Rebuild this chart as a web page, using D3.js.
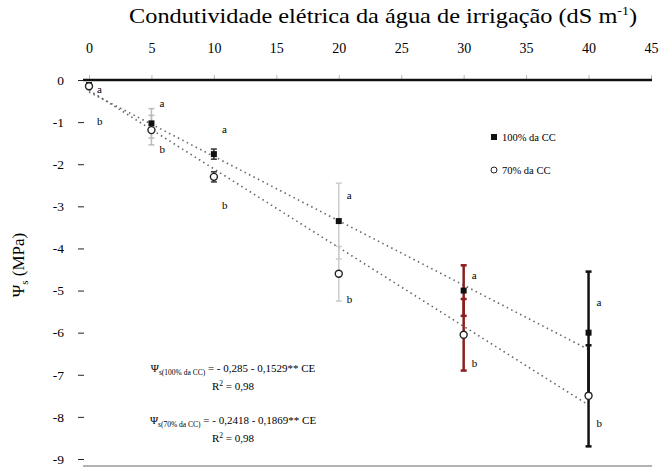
<!DOCTYPE html>
<html><head><meta charset="utf-8">
<script src="https://cdn.jsdelivr.net/npm/d3@7"></script>
<style>body{margin:0;background:#fff}svg{font-family:"Liberation Serif","Times New Roman",serif}</style>
</head><body><svg id="c" width="672" height="470"></svg>
<script>
// ---- data ----
const ce = [0, 5, 10, 20, 30, 40];
const xTicks = [0, 5, 10, 15, 20, 25, 30, 35, 40, 45];
const yTicks = [0, -1, -2, -3, -4, -5, -6, -7, -8, -9];
const psiA = [-0.12, -1.03, -1.76, -3.35, -5.0, -6.0];   // square series
const errA = [0.05, 0.35, 0.12, 0.9, 0.6, 1.45];
const psiB = [-0.15, -1.19, -2.3, -4.6, -6.05, -7.5];    // circle series
const errB = [0.05, 0.35, 0.12, 0.65, 0.85, 1.2];
const letterA = ["a", "a", "a", "a", "a", "a"];
const letterAy = [-0.22, -0.55, -1.17, -2.72, -4.64, -5.27];
const letterB = ["b", "b", "b", "b", "b", "b"];
const letterBy = [-0.98, -1.64, -2.97, -5.2, -6.72, -8.15];
const regA = {a: -0.285, b: -0.1529};
const regB = {a: -0.2418, b: -0.1869};
const seriesNames = ["100% da CC", "70% da CC"];

// ---- styles ----
const barColors = ["#333", "#bbb", "#333", "#ccc", "#8b1f1f", "#111"];

const svg = d3.select("#c");
const x = d3.scaleLinear().domain([0, 45]).range([89, 651]);
const y = d3.scaleLinear().domain([0, -9]).range([80, 459]);

// title
svg.append("text").attr("x", 383).attr("y", 23).attr("text-anchor", "middle")
  .attr("font-size", 21).attr("textLength", 508).attr("lengthAdjust", "spacingAndGlyphs")
  .html("Condutividade elétrica da água de irrigação (dS m<tspan dy='-8' font-size='12'>-1</tspan><tspan dy='8'>)</tspan>");

// top axis
const xa = svg.append("g").attr("transform", `translate(0,${y(0)})`)
  .call(d3.axisTop(x).tickValues(xTicks).tickSize(5).tickPadding(22).tickFormat(d3.format("d")));
xa.select(".domain").remove();
xa.selectAll(".tick line").attr("stroke", "#bbb");
xa.selectAll("text").attr("font-size", 14).attr("font-family", "Liberation Serif");
svg.append("line").attr("x1", 83).attr("x2", 652).attr("y1", y(0)).attr("y2", y(0))
  .attr("stroke", "#111").attr("stroke-width", 2.5);
// bottom line
svg.append("line").attr("x1", 83).attr("x2", 652).attr("y1", 466).attr("y2", 466)
  .attr("stroke", "#999").attr("stroke-width", 1.5);

// left axis
const ya = svg.append("g").attr("transform", `translate(84,0)`)
  .call(d3.axisLeft(y).tickValues(yTicks).tickSize(6).tickPadding(14).tickFormat(d => d));
ya.select(".domain").remove();
ya.selectAll(".tick line").attr("stroke", "#222");
ya.selectAll("text").attr("font-size", 13.5).attr("font-family", "Liberation Serif");

// y label
svg.append("text").attr("transform", `translate(24,${265}) rotate(-90)`).attr("text-anchor", "middle")
  .attr("font-size", 17).html("Ψ<tspan dy='4' font-size='11'>s</tspan><tspan dy='-4'> (MPa)</tspan>");

// regression lines
[regA, regB].forEach(r => {
  svg.append("line").attr("x1", x(0)).attr("y1", y(r.a)).attr("x2", x(40)).attr("y2", y(r.a + r.b * 40))
    .attr("stroke", "#666").attr("stroke-width", 1.6).attr("stroke-dasharray", "1.5,3.5");
});

// error bars
function bars(vals, errs) {
  ce.forEach((c, i) => {
    const g = svg.append("g").attr("stroke", barColors[i]).attr("stroke-width", i >= 4 ? 2.5 : 1.5);
    g.append("line").attr("x1", x(c)).attr("x2", x(c)).attr("y1", y(vals[i] + errs[i])).attr("y2", y(vals[i] - errs[i]));
    [errs[i], -errs[i]].forEach(e => g.append("line").attr("x1", x(c) - 3).attr("x2", x(c) + 3)
      .attr("y1", y(vals[i] + e)).attr("y2", y(vals[i] + e)));
  });
}
bars(psiA, errA);
bars(psiB, errB);

// markers
svg.selectAll(".sq").data(ce).enter().append("rect")
  .attr("x", (d) => x(d) - 3).attr("y", (d, i) => y(psiA[i]) - 3).attr("width", 6).attr("height", 6)
  .attr("fill", "#111");
svg.selectAll(".ci").data(ce).enter().append("circle")
  .attr("cx", d => x(d)).attr("cy", (d, i) => y(psiB[i])).attr("r", 3.5)
  .attr("fill", "#fff").attr("stroke", "#222").attr("stroke-width", 1.4);

// letters
ce.forEach((c, i) => {
  svg.append("text").attr("x", x(c) + 8).attr("y", y(letterAy[i]) + 4).attr("font-size", 11).text(letterA[i]);
  svg.append("text").attr("x", x(c) + 8).attr("y", y(letterBy[i]) + 4).attr("font-size", 11).text(letterB[i]);
});

// legend
const lg = svg.append("g").attr("font-size", 10.5);
lg.append("rect").attr("x", 491).attr("y", 134).attr("width", 6).attr("height", 6).attr("fill", "#111");
lg.append("text").attr("x", 502).attr("y", 141).text(seriesNames[0]);
lg.append("circle").attr("cx", 494).attr("cy", 170).attr("r", 3).attr("fill", "#fff").attr("stroke", "#222");
lg.append("text").attr("x", 502).attr("y", 174).text(seriesNames[1]);

// equations
const fmt = v => v.toFixed(4).replace(/0+$/, "").replace(".", ",");
function eq(yy, r, name, r2) {
  svg.append("text").attr("x", 233).attr("y", yy).attr("text-anchor", "middle").attr("font-size", 11)
    .html(`Ψ<tspan dy='3' font-size='7.5'>s(${name})</tspan><tspan dy='-3'> = - ${fmt(-r.a)} - ${fmt(-r.b)}** CE</tspan>`);
  svg.append("text").attr("x", 233).attr("y", yy + 18).attr("text-anchor", "middle").attr("font-size", 11)
    .html(`R<tspan dy='-4' font-size='7.5'>2</tspan><tspan dy='4'> = ${r2}</tspan>`);
}
eq(372, regA, seriesNames[0], "0,98");
eq(424, regB, seriesNames[1], "0,98");
</script></body></html>
